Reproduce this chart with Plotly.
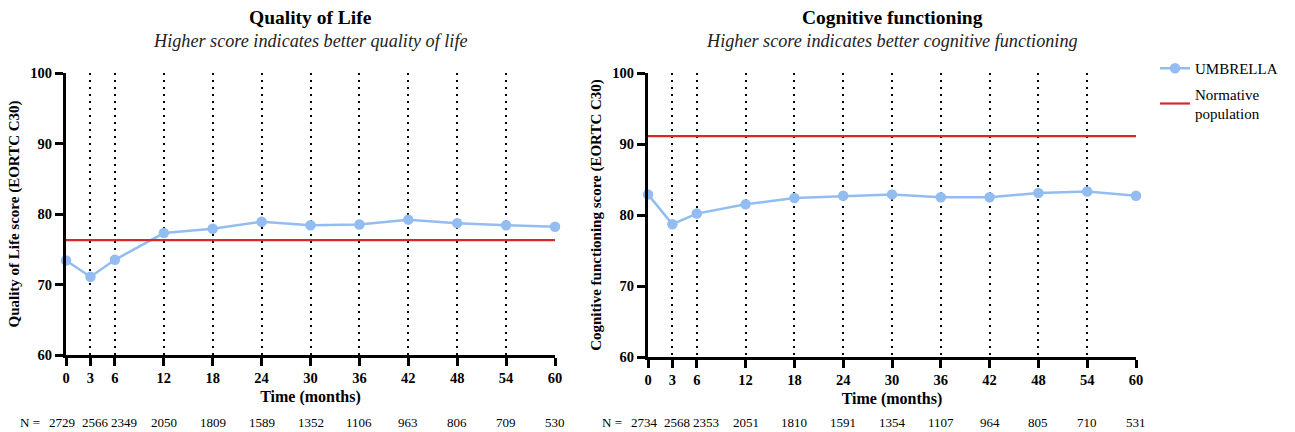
import plotly.graph_objects as go

# ---------------- data ----------------
months = [0, 3, 6, 12, 18, 24, 30, 36, 42, 48, 54, 60]
qol_umbrella = [73.4, 71.1, 73.5, 77.3, 77.9, 78.9, 78.4, 78.5, 79.2, 78.7, 78.4, 78.2]
qol_normative = 76.3
cog_umbrella = [82.9, 78.7, 80.2, 81.5, 82.4, 82.7, 82.9, 82.5, 82.5, 83.1, 83.3, 82.7]
cog_normative = 91.1
qol_n = [2729, 2566, 2349, 2050, 1809, 1589, 1352, 1106, 963, 806, 709, 530]
cog_n = [2734, 2568, 2353, 2051, 1810, 1591, 1354, 1107, 964, 805, 710, 531]
y_ticks = [60, 70, 80, 90, 100]

titles = ["Quality of Life", "Cognitive functioning"]
subtitles = ["Higher score indicates better quality of life",
             "Higher score indicates better cognitive functioning"]
y_titles = ["Quality of Life score (EORTC C30)", "Cognitive functioning score (EORTC C30)"]
x_title = "Time (months)"
series_names = ["UMBRELLA", "Normative<br>population"]

# ---------------- style ----------------
W, H = 1295, 432
FONT = "Liberation Serif, Times New Roman, serif"
BLUE = "#93bdf0"
RED = "#d42a2a"
# crowded first labels of the N row are spread a little
n_shift = [-4, 5, 9]

fig = go.Figure()

panels = [
    dict(x="x", y="y", umb=qol_umbrella, norm=qol_normative, n=qol_n,
         xdom=(66, 555), ydom=(73, 355)),
    dict(x="x2", y="y2", umb=cog_umbrella, norm=cog_normative, n=cog_n,
         xdom=(648, 1136), ydom=(73, 357)),
]

for i, p in enumerate(panels):
    fig.add_trace(go.Scatter(
        x=months, y=p["umb"], xaxis=p["x"], yaxis=p["y"], mode="lines+markers",
        name=series_names[0], legendgroup="u", showlegend=(i == 0),
        line=dict(color=BLUE, width=2.5), marker=dict(color=BLUE, size=10.5),
        cliponaxis=False))
    fig.add_trace(go.Scatter(
        x=[months[0], months[-1]], y=[p["norm"], p["norm"]], xaxis=p["x"], yaxis=p["y"],
        mode="lines", name=series_names[1], legendgroup="n", showlegend=(i == 0),
        line=dict(color=RED, width=2.2), cliponaxis=False))

axis_common = dict(showline=True, linecolor="black", linewidth=3, ticks="outside",
                   ticklen=8, tickwidth=3, tickcolor="black", zeroline=False,
                   automargin=False,
                   tickfont=dict(family=FONT, size=14.5, color="black", weight="bold"))

layout = dict(width=W, height=H, margin=dict(l=0, r=0, t=0, b=0, pad=0, autoexpand=False),
              paper_bgcolor="white", plot_bgcolor="white",
              font=dict(family=FONT, color="black"))

for i, p in enumerate(panels):
    sfx = "" if i == 0 else "2"
    x0, x1 = p["xdom"]
    y0, y1 = p["ydom"]
    layout["xaxis" + sfx] = dict(
        axis_common, domain=[x0 / W, x1 / W], range=[months[0], months[-1]],
        tickvals=months, anchor="y" + sfx,
        showgrid=True, gridcolor="black", gridwidth=1.6, griddash="2px,5px",
        title=dict(text=x_title, standoff=6,
                   font=dict(family=FONT, size=16, color="black", weight="bold")))
    layout["yaxis" + sfx] = dict(
        axis_common, domain=[1 - y1 / H, 1 - y0 / H], range=[y_ticks[0], y_ticks[-1]],
        tickvals=y_ticks, anchor="x" + sfx, showgrid=False,
        title=dict(text=y_titles[i], standoff=8,
                   font=dict(family=FONT, size=15, color="black", weight="bold")))

fig.update_layout(**layout)

annotations = []
for i, p in enumerate(panels):
    x0, x1 = p["xdom"]
    cx = (x0 + x1) / 2 / W
    annotations.append(dict(text="<b>" + titles[i] + "</b>", x=cx, y=1 - 18 / H,
                            xref="paper", yref="paper", showarrow=False,
                            xanchor="center", yanchor="middle",
                            font=dict(family=FONT, size=19.5, color="black")))
    annotations.append(dict(text="<i>" + subtitles[i] + "</i>", x=cx, y=1 - 41 / H,
                            xref="paper", yref="paper", showarrow=False,
                            xanchor="center", yanchor="middle",
                            font=dict(family=FONT, size=18.2, color="#222")))
    xr = "x" if i == 0 else "x2"
    annotations.append(dict(text="N =", x=months[0], xref=xr, xanchor="right", xshift=-24,
                            y=1 - 422 / H, yref="paper", yanchor="middle", showarrow=False,
                            font=dict(family=FONT, size=13, color="black")))
    for j, (m, n) in enumerate(zip(months, p["n"])):
        annotations.append(dict(text=str(n), x=m, xref=xr, y=1 - 422 / H, yref="paper",
                                xanchor="center", yanchor="middle", showarrow=False,
                                xshift=n_shift[j] if j < len(n_shift) else 0,
                                font=dict(family=FONT, size=13, color="black")))

fig.update_layout(
    annotations=annotations,
    legend=dict(x=1155 / W, y=1 - 52 / H, xanchor="left", yanchor="top",
                font=dict(family=FONT, size=15, color="black"),
                bgcolor="rgba(0,0,0,0)", tracegroupgap=3, itemwidth=30),
)

fig.write_html("out.html")
